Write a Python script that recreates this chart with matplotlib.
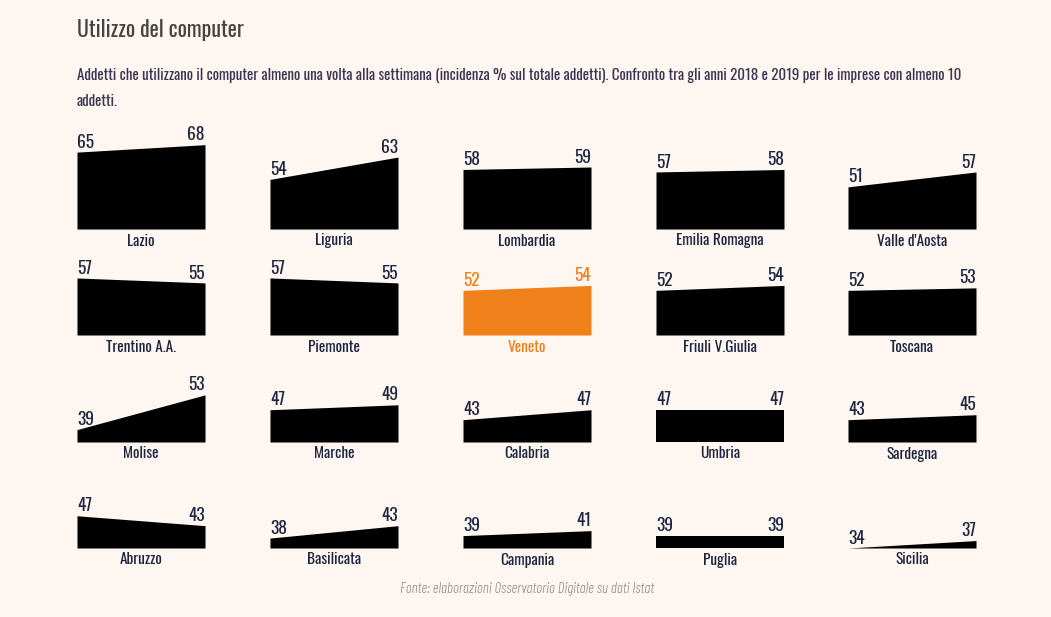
import matplotlib
matplotlib.use('Agg')
import matplotlib.pyplot as plt

# data (2018 -> 2019)
regions = [
    ['Lazio', 'Liguria', 'Lombardia', 'Emilia Romagna', "Valle d'Aosta"],
    ['Trentino A.A.', 'Piemonte', 'Veneto', 'Friuli V.Giulia', 'Toscana'],
    ['Molise', 'Marche', 'Calabria', 'Umbria', 'Sardegna'],
    ['Abruzzo', 'Basilicata', 'Campania', 'Puglia', 'Sicilia'],
]
val_2018 = [
    [65, 54, 58, 57, 51],
    [57, 57, 52, 52, 52],
    [39, 47, 43, 47, 43],
    [47, 38, 39, 39, 34],
]
val_2019 = [
    [68, 63, 59, 58, 57],
    [55, 55, 54, 54, 53],
    [53, 49, 47, 47, 45],
    [43, 43, 41, 39, 37],
]
years = [2018, 2019]
highlight = 'Veneto'

bg = '#fdf6f1'
txt_col = '#1d2440'
orange = '#f08019'

plt.rcParams['font.family'] = ['Oswald', 'DejaVu Sans']

W, H = 1051, 617
fig = plt.figure(figsize=(W / 100, H / 100), dpi=100)
fig.patch.set_facecolor(bg)

fig.text(77 / W, 1 - 30 / H, 'Utilizzo del computer', fontsize=15.7, color='#444444',
         va='center', ha='left')
fig.text(77 / W, 1 - 75 / H,
         'Addetti che utilizzano il computer almeno una volta alla settimana (incidenza % sul totale addetti). '
         'Confronto tra gli anni 2018 e 2019 per le imprese con almeno 10',
         fontsize=10.8, color='#3a3550', va='center', ha='left')
fig.text(77 / W, 1 - 101 / H, 'addetti.', fontsize=10.8, color='#3a3550', va='center', ha='left')

ymin = 34
px_per_unit = 2.48
ax_h = 95
ymax = ymin + ax_h / px_per_unit
col_x = [77, 270, 463, 656, 848]
panel_w = 128
row_base = [229, 335, 442, 548]

for r in range(4):
    for c in range(5):
        name = regions[r][c]
        v0 = val_2018[r][c]
        v1 = val_2019[r][c]
        col = orange if name == highlight else 'black'
        lab_col = orange if name == highlight else txt_col
        ax = fig.add_axes([col_x[c] / W, 1 - row_base[r] / H, panel_w / W, ax_h / H])
        ax.set_facecolor('none')
        ax.fill_between(years, [v0, v1], ymin, color=col, linewidth=0)
        ax.set_xlim(years[0], years[1])
        ax.set_ylim(ymin, ymax)
        ax.axis('off')
        ax.annotate(str(v0), (years[0], v0), xytext=(0, 1), textcoords='offset points',
                    ha='left', va='bottom', fontsize=12.5, color=lab_col)
        ax.annotate(str(v1), (years[1], v1), xytext=(0, 1), textcoords='offset points',
                    ha='right', va='bottom', fontsize=12.5, color=lab_col)
        fig.text((col_x[c] + panel_w / 2) / W, 1 - 241 / H - (row_base[r] - 229) / H, name,
                 ha='center', va='center', fontsize=11, color=lab_col)

fig.text(527 / W, 1 - 589 / H, 'Fonte: elaborazioni Osservatorio Digitale su dati Istat',
         ha='center', va='center', fontsize=10.6, style='italic', weight=300, color='#8a8a8a',
         family=['Barlow Condensed', 'DejaVu Sans'])

fig.savefig('out.png', dpi=100, facecolor=bg)
